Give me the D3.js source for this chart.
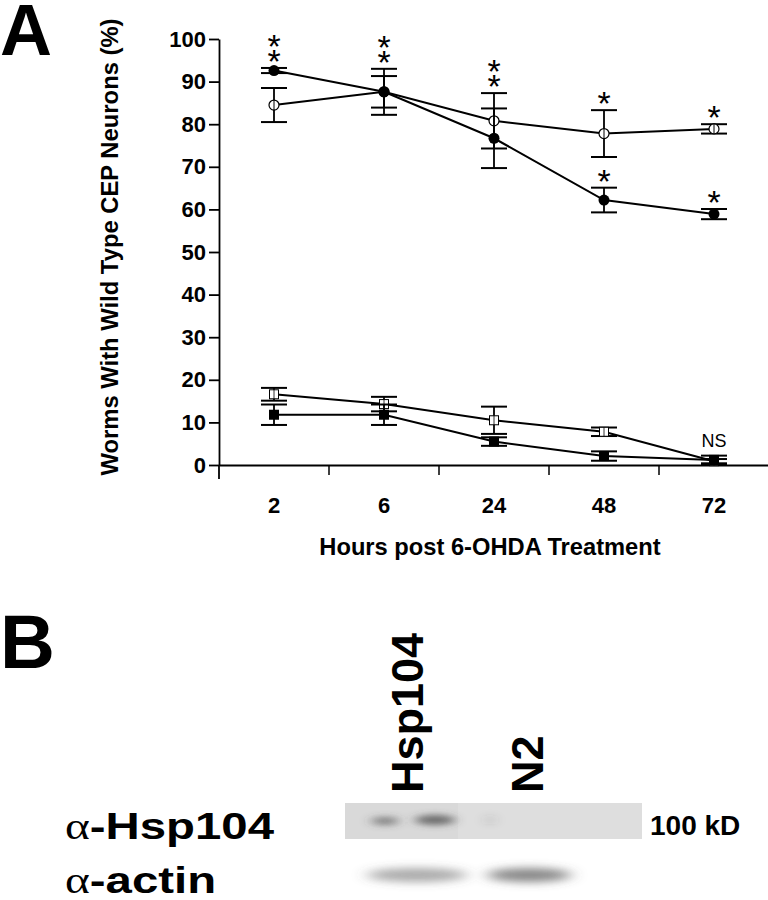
<!DOCTYPE html>
<html><head><meta charset="utf-8">
<script src="https://cdn.jsdelivr.net/npm/d3@7"></script>
<style>
html,body{margin:0;padding:0;background:#fff;}
svg{display:block;font-family:"Liberation Sans",Arial,Helvetica,sans-serif;}
</style></head>
<body>
<svg id="c" width="768" height="900"></svg>
<script>
// ---------- DATA (panel A) ----------
const hours = ["2", "6", "24", "48", "72"];
const yTicks = [0, 10, 20, 30, 40, 50, 60, 70, 80, 90, 100];
const filledCircleMean = [92.6, 87.6, 76.7, 62.2, 58.9];
const filledCircleErr  = [0.6, 5.4, 7.0, 2.9, 1.2];
const openCircleMean   = [84.5, 87.6, 80.8, 77.8, 78.9];
const openCircleErr    = [4.0, 3.7, 6.5, 5.5, 1.1];
const openSquareMean   = [16.6, 14.3, 10.5, 7.8, 0.9];
const openSquareErr    = [1.5, 1.7, 3.2, 1.0, 0.5];
const filledSquareMean = [11.8, 11.8, 5.5, 2.1, 1.2];
const filledSquareErr  = [2.4, 2.4, 1.0, 1.1, 1.0];
const starsFilledCircle = [2, 2, 0, 1, 1];
const starsOpenCircle   = [0, 0, 2, 1, 1];
const nsSquares = ["", "", "", "", "NS"];
const yLabel = "Worms With Wild Type CEP Neurons (%)";
const xLabel = "Hours post 6-OHDA Treatment";

// ---------- DATA (panel B) ----------
const lanes = ["Hsp104", "N2"];
const hspSignal = [0.75, 0.15];
const actinSignal = [0.5, 0.7];
const blotRows = ["-Hsp104", "-actin"];
const markerLabel = "100 kD";

const svg = d3.select("#c");

// ---------- Panel A ----------
const x = d3.scaleBand().domain(hours).range([219, 769]);
const y = d3.scaleLinear().domain([0, 100]).range([465, 39]);

svg.append("text").attr("x", 0).attr("y", 55).attr("font-size", 72).attr("font-weight", "bold").text("A");

// y axis
const gy = svg.append("g").attr("transform", "translate(219,0)")
  .call(d3.axisLeft(y).tickValues(yTicks).tickSize(10).tickSizeOuter(0).tickPadding(3));
gy.selectAll("text").attr("font-size", 22).attr("font-weight", "bold").attr("fill", "#000")
  .attr("font-family", "Liberation Sans, Arial, sans-serif");
gy.selectAll("line,path").attr("stroke", "#000").attr("stroke-width", 1.8);
svg.append("line").attr("x1", 219).attr("x2", 219).attr("y1", y(0)).attr("y2", y(0) + 14)
  .attr("stroke", "#000").attr("stroke-width", 1.8);

// x axis
const gx = svg.append("g").attr("transform", `translate(0,${y(0)})`)
  .call(d3.axisBottom(x).tickSize(0).tickSizeOuter(0).tickPadding(32));
gx.selectAll("text").attr("font-size", 22).attr("font-weight", "bold").attr("fill", "#000")
  .attr("font-family", "Liberation Sans, Arial, sans-serif");
gx.select("path").attr("stroke", "#000").attr("stroke-width", 1.8);
gx.selectAll(null).data(hours.slice(1)).enter().append("line")
  .attr("x1", d => x(d)).attr("x2", d => x(d)).attr("y1", 0).attr("y2", 10)
  .attr("stroke", "#000").attr("stroke-width", 1.5);

// axis titles
svg.append("text").attr("transform", "translate(118,247) rotate(-90)").attr("text-anchor", "middle")
  .attr("font-size", 23.8).attr("font-weight", "bold").text(yLabel);
svg.append("text").attr("x", 490).attr("y", 555).attr("text-anchor", "middle")
  .attr("font-size", 23.7).attr("font-weight", "bold").text(xLabel);

function series(mean, err, marker) {
  const pts = hours.map((h, i) => ({h, v: mean[i], e: err[i]}));
  const g = svg.append("g");
  const cx = d => x(d.h) + x.bandwidth() / 2;
  g.selectAll(null).data(pts).enter().append("line")
    .attr("x1", cx).attr("x2", cx).attr("y1", d => y(d.v + d.e)).attr("y2", d => y(d.v - d.e))
    .attr("stroke", "#000").attr("stroke-width", 1.8);
  [1, -1].forEach(s => {
    g.selectAll(null).data(pts).enter().append("line")
      .attr("x1", d => cx(d) - 13).attr("x2", d => cx(d) + 13)
      .attr("y1", d => y(d.v + s * d.e)).attr("y2", d => y(d.v + s * d.e))
      .attr("stroke", "#000").attr("stroke-width", 2);
  });
  g.append("path").datum(pts)
    .attr("d", d3.line().x(cx).y(d => y(d.v)))
    .attr("fill", "none").attr("stroke", "#000").attr("stroke-width", 2);
  const m = g.selectAll(null).data(pts).enter();
  if (marker === "filledCircle") {
    m.append("circle").attr("cx", cx).attr("cy", d => y(d.v)).attr("r", 5.5).attr("fill", "#000");
  } else if (marker === "openCircle") {
    m.append("circle").attr("cx", cx).attr("cy", d => y(d.v)).attr("r", 5).attr("fill", "#fff")
      .attr("stroke", "#000").attr("stroke-width", 1.2);
    m.append("line").attr("x1", cx).attr("x2", cx).attr("y1", d => y(d.v) - 5).attr("y2", d => y(d.v) + 5)
      .attr("stroke", "#000").attr("stroke-width", 1);
  } else if (marker === "filledSquare") {
    m.append("rect").attr("x", d => cx(d) - 5).attr("y", d => y(d.v) - 5).attr("width", 10).attr("height", 10).attr("fill", "#000");
  } else {
    m.append("rect").attr("x", d => cx(d) - 4.5).attr("y", d => y(d.v) - 4.5).attr("width", 9).attr("height", 9)
      .attr("fill", "#fff").attr("stroke", "#000").attr("stroke-width", 1);
    m.append("line").attr("x1", cx).attr("x2", cx).attr("y1", d => y(d.v) - 4.5).attr("y2", d => y(d.v) + 4.5)
      .attr("stroke", "#000").attr("stroke-width", 0.8);
  }
  return pts;
}

series(openSquareMean, openSquareErr, "openSquare");
series(filledSquareMean, filledSquareErr, "filledSquare");
series(openCircleMean, openCircleErr, "openCircle");
series(filledCircleMean, filledCircleErr, "filledCircle");

// significance stars
function stars(mean, err, counts) {
  hours.forEach((h, i) => {
    for (let k = 0; k < counts[i]; k++) {
      const cyc = y(mean[i] + err[i]) - 14 - k * 15;
      svg.append("text").attr("x", x(h) + x.bandwidth() / 2).attr("y", cyc + 19)
        .attr("text-anchor", "middle").attr("font-size", 34).text("*");
    }
  });
}
stars(filledCircleMean, filledCircleErr, starsFilledCircle);
stars(openCircleMean, openCircleErr, starsOpenCircle);
hours.forEach((h, i) => {
  if (nsSquares[i]) {
    const top = Math.max(openSquareMean[i] + openSquareErr[i], filledSquareMean[i] + filledSquareErr[i]);
    svg.append("text").attr("x", x(h) + x.bandwidth() / 2).attr("y", y(top) - 9)
      .attr("text-anchor", "middle").attr("font-size", 18).text(nsSquares[i]);
  }
});

// ---------- Panel B ----------
svg.append("text").attr("x", 0).attr("y", 668).attr("font-size", 76).attr("font-weight", "bold").text("B");

const lx = d3.scaleBand().domain(lanes).range([355, 595]);
const defs = svg.append("defs");
defs.append("filter").attr("id", "blur").attr("x", "-50%").attr("y", "-150%").attr("width", "200%").attr("height", "400%")
  .append("feGaussianBlur").attr("stdDeviation", "6 3");
defs.append("filter").attr("id", "blur2").attr("x", "-50%").attr("y", "-150%").attr("width", "200%").attr("height", "400%")
  .append("feGaussianBlur").attr("stdDeviation", "8 4");

// lane labels
svg.selectAll(null).data(lanes).enter().append("text")
  .attr("transform", d => `translate(${lx(d) + lx.bandwidth() / 2 + 8},793) rotate(-90)`)
  .attr("font-size", 45).attr("font-weight", "bold").text(d => d);

// Hsp104 blot
svg.append("rect").attr("x", 345).attr("y", 803).attr("width", 297).attr("height", 36).attr("fill", "#d9d9d9");
svg.append("rect").attr("x", 458).attr("y", 803).attr("width", 184).attr("height", 36).attr("fill", "#dedede");
const gb = svg.append("g").attr("filter", "url(#blur)");
gb.selectAll(null).data(lanes).enter().append("ellipse")
  .attr("cx", (d, i) => lx(d) + lx.bandwidth() / 2 + (i ? -45 : 20))
  .attr("cy", 820).attr("rx", (d, i) => i ? 5 : 20).attr("ry", 5)
  .attr("fill", "#444").attr("opacity", (d, i) => hspSignal[i]);
gb.selectAll(null).data(lanes.slice(0, 1)).enter().append("ellipse")
  .attr("cx", d => lx(d) + lx.bandwidth() / 2 - 30)
  .attr("cy", 821).attr("rx", 14).attr("ry", 4)
  .attr("fill", "#444").attr("opacity", hspSignal[0] * 0.8);
// actin blot
const ga = svg.append("g").attr("filter", "url(#blur2)");
ga.selectAll(null).data(lanes).enter().append("ellipse")
  .attr("cx", (d, i) => lx(d) + lx.bandwidth() / 2 + (i ? -6 : 2))
  .attr("cy", 875).attr("rx", (d, i) => i ? 42 : 50).attr("ry", 7)
  .attr("fill", "#555").attr("opacity", (d, i) => actinSignal[i]);

// row labels (glyphs horizontally widened as in the original figure)
const rowY = [839, 893];
blotRows.forEach((r, i) => {
  const t = svg.append("text").attr("transform", `translate(65,${rowY[i]}) scale(1.28,1)`).attr("font-size", 37);
  t.append("tspan").attr("font-family", "Liberation Serif, Times New Roman, serif").text("α");
  t.append("tspan").attr("font-weight", "bold").text(r);
});
svg.append("text").attr("x", 650).attr("y", 835).attr("font-size", 28).attr("font-weight", "bold").text(markerLabel);
</script>
</body></html>
